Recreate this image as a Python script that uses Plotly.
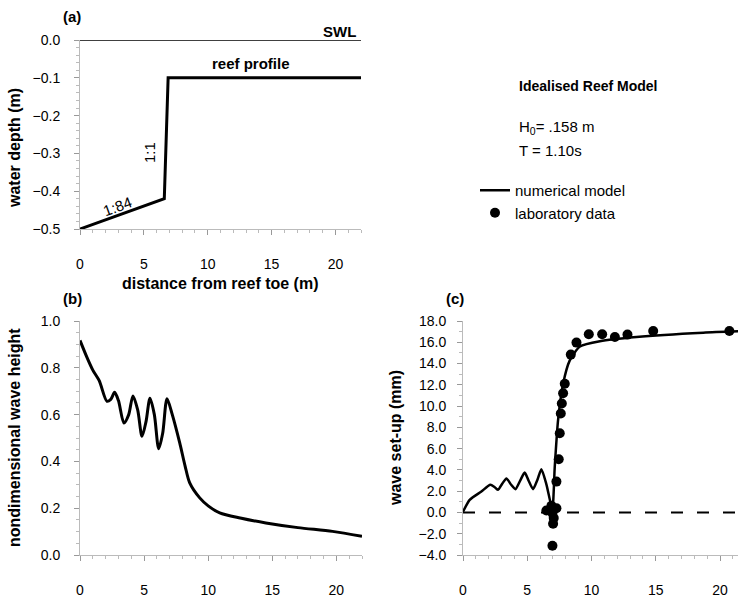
import plotly.graph_objects as go

# ---- data ----
# (a) reef profile and still water level
profile_x = [0, 6.6, 6.9, 22]
profile_y = [-0.5, -0.42, -0.1, -0.1]
swl_x = [0, 22]
swl_y = [0.0, 0.0]

# (b) nondimensional wave height (numerical model)
wh_x = [0, 0.5, 1.0, 1.5, 2.1, 2.4, 2.7, 3.0, 3.43, 3.8, 4.13, 4.5, 4.84, 5.15, 5.46, 5.8, 6.14,
        6.45, 6.79, 7.2, 7.78, 8.2, 8.56, 9.34, 10.0, 10.9, 12.5, 14.5, 17.0, 19.7, 22.0]
wh_y = [0.917, 0.85, 0.79, 0.745, 0.657, 0.665, 0.695, 0.66, 0.564, 0.6, 0.68, 0.62, 0.507, 0.57,
        0.67, 0.6, 0.454, 0.52, 0.668, 0.6, 0.479, 0.38, 0.308, 0.244, 0.21, 0.18, 0.158, 0.137,
        0.117, 0.101, 0.08]

# (c) wave set-up: numerical model
su_x = [0, 0.52, 1.43, 2.13, 2.45, 2.73, 3.05, 3.38, 3.75, 4.08, 4.45, 4.8, 5.1, 5.45, 5.8,
        6.1, 6.5, 6.95, 7.14, 7.4, 7.79, 8.31, 9.1, 10.65, 13.5, 18.7, 22.0]
su_y = [0.06, 1.19, 1.97, 2.6, 2.4, 2.125, 2.7, 3.2, 2.6, 2.19, 3.0, 3.75, 3.0, 2.19, 3.1,
        4.06, 2.6, 0.3, 4.3, 8.7, 12.1, 14.3, 15.6, 16.1, 16.5, 16.9, 17.05]
# (c) wave set-up: laboratory data
lab_x = [6.49, 6.88, 6.96, 7.06, 7.01, 6.96, 7.27, 7.27, 7.45, 7.53, 7.61, 7.69, 7.79, 7.92,
         8.39, 8.83, 9.79, 10.83, 11.82, 12.8, 14.8, 20.73]
lab_y = [0.19, 0.63, -0.06, -0.53, -1.06, -3.13, 0.4, 2.9, 5.0, 7.44, 9.3, 10.25, 11.2, 12.1,
         14.84, 15.97, 16.75, 16.75, 16.5, 16.72, 17.06, 17.06]
zero_x = [0, 22]
zero_y = [0, 0]

W, H = 738, 599
def px(x): return x / W
def py(y): return 1 - y / H

FONT = "Liberation Sans, Arial, sans-serif"

fig = go.Figure()
fig.add_trace(go.Scatter(x=swl_x, y=swl_y, mode="lines", line=dict(color="black", width=1.5),
                         xaxis="x", yaxis="y", showlegend=False, cliponaxis=False))
fig.add_trace(go.Scatter(x=profile_x, y=profile_y, mode="lines", line=dict(color="black", width=3),
                         xaxis="x", yaxis="y", showlegend=False, cliponaxis=False))
fig.add_trace(go.Scatter(x=wh_x, y=wh_y, mode="lines", line=dict(color="black", width=3, shape="spline", smoothing=0.8),
                         xaxis="x2", yaxis="y2", showlegend=False, cliponaxis=False))
fig.add_trace(go.Scatter(x=zero_x, y=zero_y, mode="lines", line=dict(color="black", width=2, dash="12px,14px"),
                         xaxis="x3", yaxis="y3", showlegend=False))
fig.add_trace(go.Scatter(x=su_x, y=su_y, mode="lines", name="numerical model",
                         line=dict(color="black", width=2.5, shape="spline", smoothing=0.6),
                         xaxis="x3", yaxis="y3", cliponaxis=False))
fig.add_trace(go.Scatter(x=lab_x, y=lab_y, mode="markers", name="laboratory data",
                         marker=dict(color="black", size=10),
                         xaxis="x3", yaxis="y3", cliponaxis=False))

base = dict(showgrid=False, zeroline=False, showline=True, linecolor="#bbbbbb", linewidth=1,
            automargin=False, ticks="outside", ticklen=5, tickcolor="#999999",
            tickfont=dict(size=14, color="black", family=FONT))
ymin = dict(ticks="outside", ticklen=3, tickcolor="#bbbbbb")
xmin = dict(ticks="outside", ticklen=3, tickcolor="#bbbbbb", dtick=1)

fig.update_layout(
    width=W, height=H, margin=dict(l=0, r=0, t=0, b=0, autoexpand=False),
    paper_bgcolor="white", plot_bgcolor="white",
    font=dict(family=FONT, size=14, color="black"),
    xaxis=dict(domain=[px(80), px(361)], range=[0, 22], tickvals=[0, 5, 10, 15, 20], anchor="y",
               ticklabelstandoff=17, minor=xmin, **base),
    yaxis=dict(domain=[py(229), py(40)], range=[-0.5, 0.0], tickvals=[0, -0.1, -0.2, -0.3, -0.4, -0.5],
               tickformat=".1f", anchor="x", ticklabelstandoff=11, minor=ymin, **base),
    xaxis2=dict(domain=[px(80), px(362)], range=[0, 22], tickvals=[0, 5, 10, 15, 20], anchor="y2",
                ticklabelstandoff=17, minor=xmin, **base),
    yaxis2=dict(domain=[py(555), py(321)], range=[0, 1.0], tickvals=[0, 0.2, 0.4, 0.6, 0.8, 1.0],
                tickformat=".1f", anchor="x2", ticklabelstandoff=11, minor=ymin, **base),
    xaxis3=dict(domain=[px(463), 1.0], range=[0, (738 - 463) / 12.85], tickvals=[0, 5, 10, 15, 20], anchor="y3",
                ticklabelstandoff=17, minor=xmin, **base),
    yaxis3=dict(domain=[py(555), py(321)], range=[-4, 18], tickvals=list(range(-4, 19, 2)),
                tickformat=".1f", anchor="x3", ticklabelstandoff=8, minor=ymin, **base),
    legend=dict(x=px(475), y=py(174), xanchor="left", yanchor="top", font=dict(size=15, family=FONT),
                bgcolor="rgba(0,0,0,0)", itemwidth=30, tracegroupgap=0),
)

def ann(text, x, y, size=14, bold=False, xanchor="center", angle=0):
    fig.add_annotation(text=f"<b>{text}</b>" if bold else text, x=px(x), y=py(y), xref="paper", yref="paper",
                       showarrow=False, xanchor=xanchor, yanchor="middle", textangle=angle,
                       font=dict(size=size, family=FONT, color="black"))

ann("(a)", 72, 16, 15, True)
ann("(b)", 72, 298, 15, True)
ann("(c)", 455, 298, 15, True)
ann("SWL", 358, 31, 15, True, xanchor="right")
ann("reef profile", 251, 63, 15, True)
ann("1:1", 149, 153, 15, False, angle=-90)
ann("1:84", 117, 207, 15, False, angle=-20)
ann("distance from reef toe (m)", 220, 283, 16, True)
ann("water depth (m)", 14, 148, 16, True, angle=-90)
ann("nondimensional wave height", 14, 438, 16, True, angle=-90)
ann("wave set-up (mm)", 395, 438, 16, True, angle=-90)
ann("Idealised Reef Model", 517, 86, 14, True, xanchor="left")
ann("H<sub>0</sub>= .158 m", 517, 127, 15, False, xanchor="left")
ann("T = 1.10s", 517, 150, 15, False, xanchor="left")

fig.write_html("out.html", config={"displayModeBar": False},
               post_script="document.body.style.margin='0';document.body.style.overflow='hidden';")
